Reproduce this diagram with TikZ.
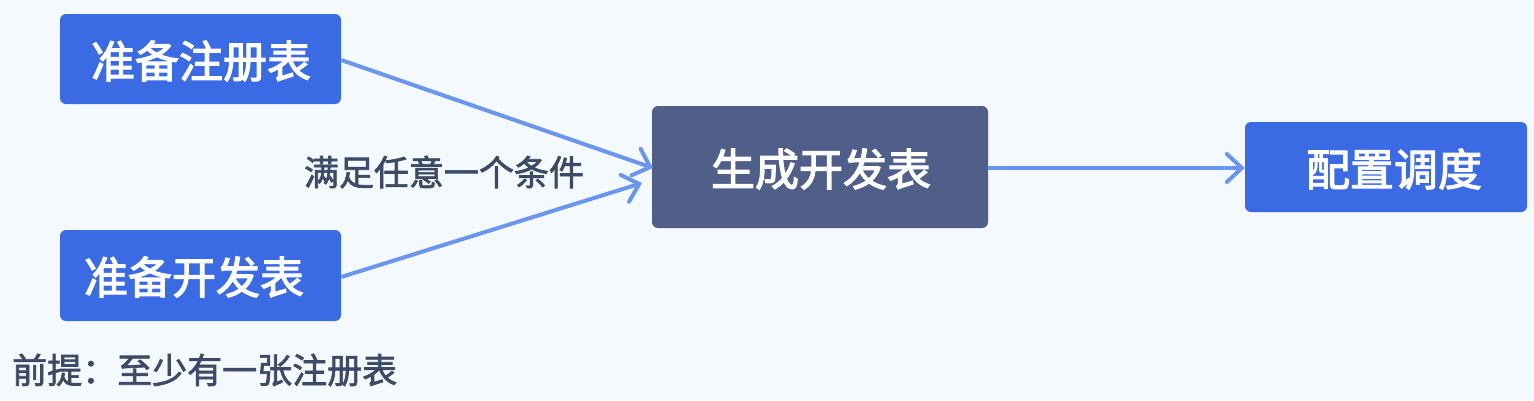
\documentclass[tikz,border=0pt]{standalone}
\usepackage{fontspec}
\setmainfont{Noto Sans CJK SC}
\newfontfamily\boxfont{Noto Sans CJK SC}[FakeBold=2.6]
\newfontfamily\lblfont{Noto Sans CJK SC}[FakeBold=1.9]
\usetikzlibrary{arrows.meta}
\definecolor{bg}{HTML}{F4F9FE}
\definecolor{bbox}{HTML}{3A6BE5}
\definecolor{dbox}{HTML}{4F5F8A}
\definecolor{arr}{HTML}{6B96F0}
\definecolor{txt}{HTML}{3C4A66}
\tikzset{
  box/.style={draw=none, rounded corners=6pt, inner sep=0pt},
  bluebox/.style={box, fill=bbox},
  darkbox/.style={box, fill=dbox},
  boxtext/.style={text=white, inner sep=0pt, font=\boxfont\fontsize{44pt}{44pt}\selectfont},
  conn/.style={draw=arr, line width=4pt, -{Straight Barb[length=15pt,width=28pt,line width=4pt,line cap=round]}},
  lbl/.style={text=txt, inner sep=0pt, font=\lblfont\fontsize{35pt}{35pt}\selectfont},
}
\begin{document}
\begin{tikzpicture}[x=1pt,y=-1pt]
\fill[bg] (0,0) rectangle (1534,400);
\useasboundingbox (0,0) rectangle (1534,400);
\node[bluebox, minimum width=281pt, minimum height=90pt] (reg) at (200.5,59) {};
\node[boxtext] (regt) at (201,61) {准备注册表};
\node[bluebox, minimum width=281pt, minimum height=91pt] (dev) at (200.5,275.5) {};
\node[boxtext] (devt) at (194,277) {准备开发表};
\node[darkbox, minimum width=336pt, minimum height=122pt] (gen) at (820,167) {};
\node[boxtext] (gent) at (821,169) {生成开发表};
\node[bluebox, minimum width=282pt, minimum height=90pt] (sch) at (1386,167) {};
\node[boxtext] (scht) at (1394,169) {配置调度};
\coordinate (g1) at (653,168);
\coordinate (g2) at (642,183);
\draw[conn] (reg.east |- 0,60) -- (g1);
\draw[conn] (dev.east |- 0,277) -- (g2);
\draw[conn] (gen.east |- 0,168) -- (sch.west |- 0,168);
\node[lbl] (cond) at (444,172) {满足任意一个条件};
\node[lbl, anchor=west] (pre) at (12,370) {前提：至少有一张注册表};
\end{tikzpicture}
\end{document}
